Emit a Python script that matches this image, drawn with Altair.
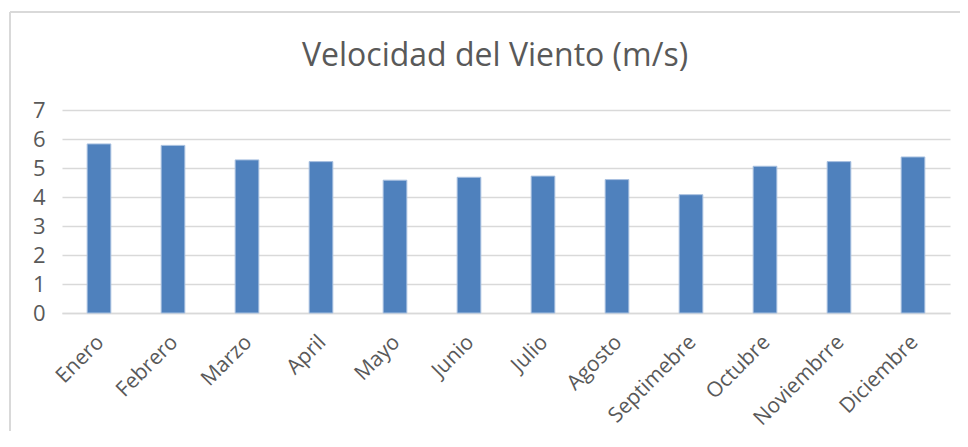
import altair as alt
import pandas as pd

months = ["Enero", "Febrero", "Marzo", "April", "Mayo", "Junio", "Julio",
          "Agosto", "Septimebre", "Octubre", "Noviembrre", "Diciembre"]
speeds = [5.83, 5.78, 5.28, 5.22, 4.58, 4.68, 4.72, 4.60, 4.08, 5.06, 5.22, 5.38]
y_ticks = [0, 1, 2, 3, 4, 5, 6, 7]

df = pd.DataFrame({"Mes": months, "Velocidad": speeds})

FONT = "Open Sans"
GRAY = "#595959"
BORDER = "#d9d9d9"

bars = alt.Chart(df).mark_bar(
    color="#4f81bd", stroke="#a9c1e0", strokeWidth=1
).encode(
    x=alt.X("Mes:N", sort=months, title=None,
            scale=alt.Scale(paddingInner=0.68, paddingOuter=0.34),
            axis=alt.Axis(labelAngle=-45, labelFontSize=21, labelColor=GRAY,
                          labelFont=FONT, ticks=False, domainColor=BORDER,
                          domainWidth=1.5, labelPadding=18, labelOffset=-6,
                          grid=False)),
    y=alt.Y("Velocidad:Q", title=None,
            scale=alt.Scale(domain=[0, 7], nice=False),
            axis=alt.Axis(values=y_ticks, labelFontSize=22, labelColor=GRAY,
                          labelFont=FONT, ticks=False, domain=False,
                          gridColor=BORDER, gridWidth=1.5, labelPadding=17)),
)

# chart-area frame (decorative, as in the spreadsheet export)
frame_top = alt.Chart(df).mark_rule(color=BORDER, strokeWidth=1.5).encode(
    x=alt.value(-52), x2=alt.value(906), y=alt.value(-98)
)
frame_left = alt.Chart(df).mark_rule(color=BORDER, strokeWidth=1.5).encode(
    x=alt.value(-52), y=alt.value(-98), y2=alt.value(337)
)

chart = alt.layer(bars, frame_top, frame_left).properties(
    width=888,
    height=203,
    title=alt.TitleParams("Velocidad del Viento (m/s)", fontSize=32,
                          font=FONT, color=GRAY, fontWeight="normal",
                          anchor="middle", offset=-62, dx=-11),
    autosize=alt.AutoSizeParams(type="none"),
    padding={"left": 54, "top": 102, "right": 10, "bottom": 118},
    background="white",
).configure_view(strokeWidth=0, stroke="transparent")

chart.save("out.html", embed_options={"renderer": "svg", "actions": False})
